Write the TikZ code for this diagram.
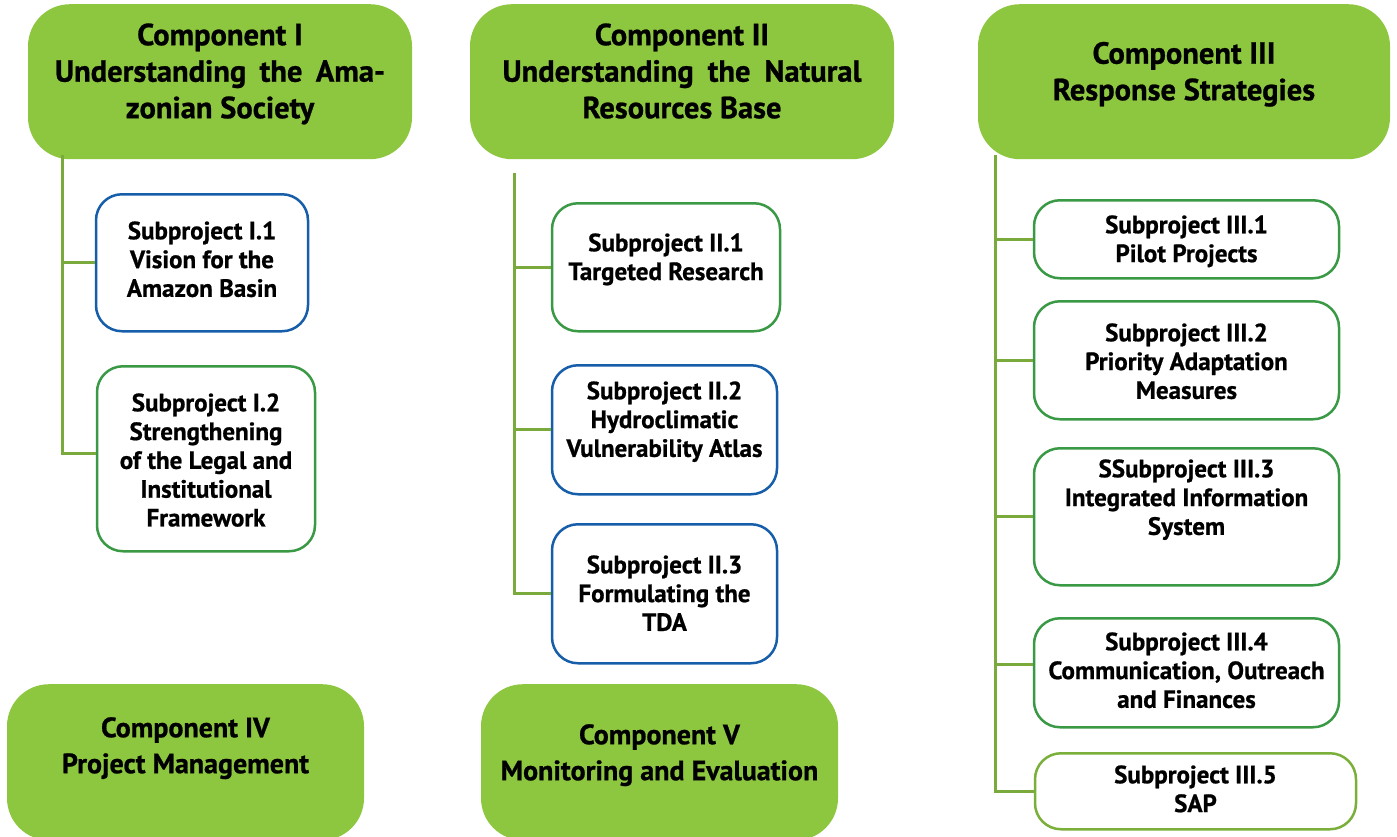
\documentclass[tikz,border=0pt]{standalone}
\usepackage{fontspec}
\setmainfont{PT Sans}[BoldFeatures={FakeBold=0.8}]
\definecolor{compgreen}{RGB}{141, 198, 63}
\definecolor{boxgreen}{RGB}{57, 153, 68}
\definecolor{boxblue}{RGB}{22, 93, 170}
\definecolor{boxlime}{RGB}{122, 175, 58}
\definecolor{linkgreen}{RGB}{122, 170, 60}
\usepackage{tikz}
\usetikzlibrary{calc}
\tikzset{
  comp/.style={fill=compgreen, rounded corners=42pt, anchor=north, inner sep=0,
    align=center, font=\fontsize{28}{36}\selectfont\bfseries},
  topcomp/.style={comp, font=\fontsize{30.5}{36.5}\selectfont\bfseries},
  sub/.style={fill=white, line width=2.5pt, rounded corners=26pt, anchor=north,
    inner sep=0, align=center, font=\fontsize{25}{28.8}\selectfont\bfseries},
  subgreen/.style={sub, draw=boxgreen},
  subblue/.style={sub, draw=boxblue},
  sublime/.style={sub, draw=boxlime},
  link/.style={draw=linkgreen, line width=3pt}
}

\begin{document}
\begin{tikzpicture}[x=1pt, y=-1pt]

    \clip (0,0) rectangle (1397,836);

    \node [topcomp, minimum width=384pt, text height=114pt, text depth=41pt] (c1) at (220,4)
          {Component I\\\makebox[330pt][s]{Understanding the Ama-}\\zonian Society};
    \node [topcomp, minimum width=424pt, text height=114pt, text depth=41pt] (c2) at (682,4)
          {Component II\\\makebox[359pt][s]{Understanding the Natural}\\Resources Base};
    \node [topcomp, minimum width=412pt, text height=96pt, text depth=59pt] (c3) at (1184,4)
          {Component III\\Response Strategies};
    \node [comp, minimum width=357pt, text height=89pt, text depth=67pt] (c4) at (185.5,684)
          {Component IV\\Project Management};
    \node [comp, minimum width=357pt, text height=96pt, text depth=60pt] (c5) at (659.5,684)
          {Component V\\Monitoring and Evaluation};

    \node [subblue, minimum width=212pt, text height=102.6pt, text depth=34.4pt] (s11) at (202,193)
          {Subproject I.1\\Vision for the\\Amazon Basin};
    \node [subgreen, minimum width=218pt, text height=160.2pt, text depth=24.8pt] (s12) at (206,365)
          {Subproject I.2\\Strengthening\\of the Legal and\\Institutional\\Framework};

    \node [subgreen, minimum width=228pt, text height=76.8pt, text depth=51.2pt] (s21) at (666,202)
          {Subproject II.1\\Targeted Research};
    \node [subblue, minimum width=225pt, text height=91.6pt, text depth=37.4pt] (s22) at (664.5,364)
          {Subproject II.2\\Hydroclimatic\\Vulnerability Atlas};
    \node [subblue, minimum width=225pt, text height=106.6pt, text depth=32.4pt] (s23) at (664.5,523)
          {Subproject II.3\\Formulating the\\TDA};

    \node [subgreen, minimum width=305pt, text height=61.8pt, text depth=16.2pt] (s31) at (1186.5,199)
          {Subproject III.1\\Pilot Projects};
    \node [subgreen, minimum width=305pt, text height=97.6pt, text depth=20.4pt] (s32) at (1186.5,300)
          {Subproject III.2\\Priority Adaptation\\Measures};
    \node [subgreen, minimum width=305pt, text height=86.6pt, text depth=50.4pt] (s33) at (1186.5,447)
          {SSubproject III.3\\Integrated Information\\System};
    \node [subgreen, minimum width=305pt, text height=89.6pt, text depth=19.4pt] (s34) at (1186.5,617)
          {Subproject III.4\\Communication, Outreach\\and Finances};
    \node [sublime, minimum width=321pt, text height=58.8pt, text depth=17.2pt] (s35) at (1195.5,752)
          {Subproject III.5\\SAP};

    \coordinate (t1) at (62,155);
    \coordinate (t2) at (514,173);
    \coordinate (t3) at (995,155);

    \path [link] (t1) |- (s11.west)
                 (t1) |- ([yshift=5pt]s12.west);
    \path [link] (t2) |- (s21.west)
                 (t2) |- (s22.west)
                 (t2) |- (s23.west);
    \path [link] (t3) |- (s31.west)
                 (t3) |- (s32.west)
                 (t3) |- (s33.west)
                 (t3) |- ([yshift=8pt]s34.west)
                 (t3) |- (s35.west);
    \end{tikzpicture}
\end{document}
